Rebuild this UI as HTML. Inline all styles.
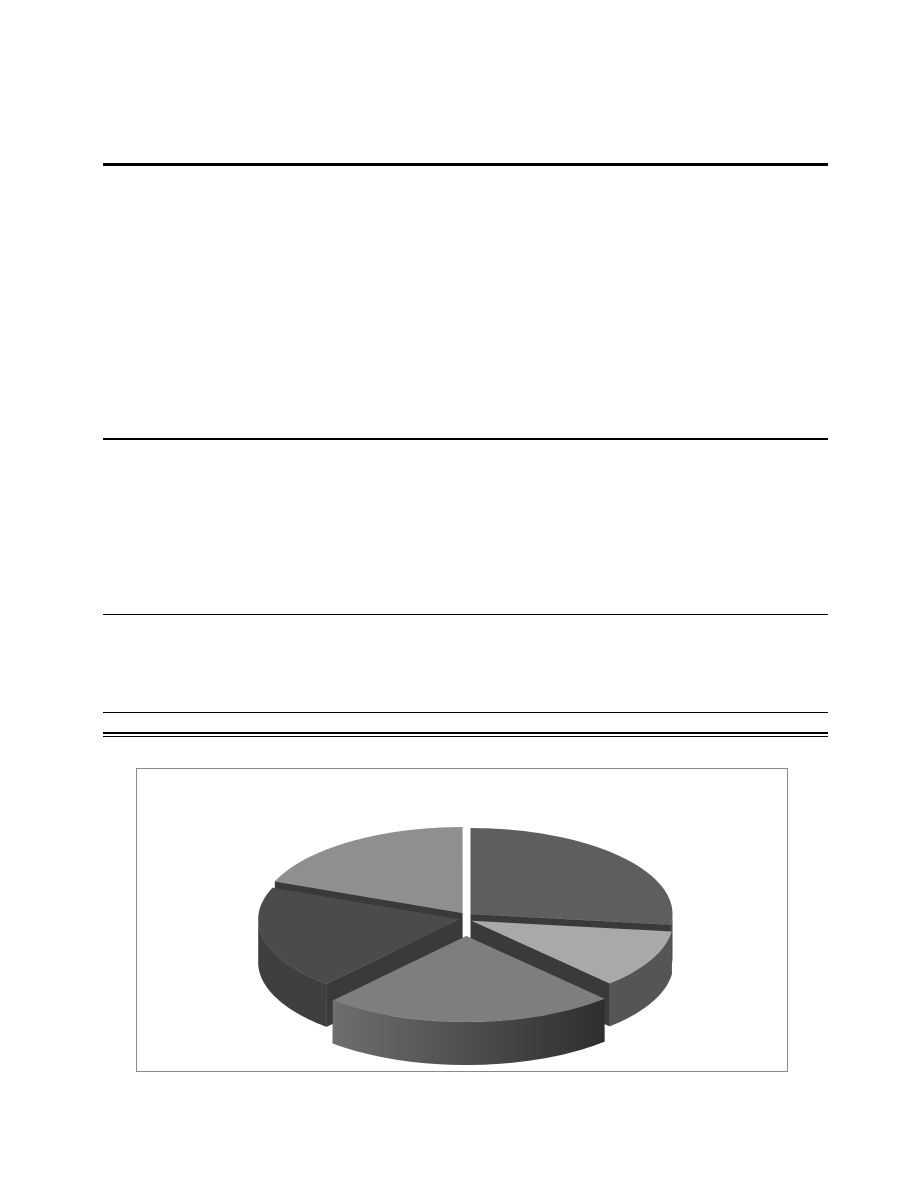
<!DOCTYPE html>
<html><head><meta charset="utf-8"><style>
html,body{margin:0;padding:0;background:#fff;}
body{width:918px;height:1188px;position:relative;overflow:hidden;font-family:"Liberation Sans",sans-serif;}
.hr{position:absolute;left:103px;width:725px;background:#000;}
#chart-box{position:absolute;left:136px;top:768px;width:652px;height:304px;border:1px solid #8a8a8a;box-sizing:border-box;}
svg{position:absolute;left:0;top:0;}
</style></head><body>
<div class="hr" style="top:163px;height:3px"></div>
<div class="hr" style="top:438px;height:2px"></div>
<div class="hr" style="top:614px;height:1px"></div>
<div class="hr" style="top:712px;height:1px"></div>
<div class="hr" style="top:732px;height:2px"></div>
<div class="hr" style="top:736px;height:1px"></div>
<div id="chart-box"></div>
<svg id="pie" width="918" height="1188">
<defs>
<linearGradient id="gw" x1="0" x2="1" y1="0" y2="0"><stop offset="0" stop-color="#6e6e6e"/><stop offset="1" stop-color="#2e2e2e"/></linearGradient>
</defs>
</svg>
<script>
const categories=["A","B","C","D","E"];
const values=[27.0,11.0,23.5,19.5,19.0];
const topColors=["#5e5e5e","#a9a9a9","#7e7e7e","#4b4b4b","#8f8f8f"];
const wallColors=["#4a4a4a","#555555","url(#gw)","#3f3f3f","#555555"];
const explode=[6,6,18,6,6];
const cx=466,cy=918,rx=202,ry=86,depth=43;
const svg=document.getElementById('pie');
const NS="http://www.w3.org/2000/svg";
const total=values.reduce((a,b)=>a+b,0);
function pt(ox,oy,a,dy){return [ox+rx*Math.cos(a),oy+ry*Math.sin(a)+(dy||0)];}
let start=-Math.PI/2;
const slices=[];
values.forEach((v,i)=>{const span=v/total*2*Math.PI;const a0=start,a1=start+span;const mid=(a0+a1)/2;
 slices.push({i,a0,a1,ox:cx+explode[i]*Math.cos(mid),oy:cy+explode[i]*Math.sin(mid)});start=a1;});
function arc(ox,oy,a0,a1,dy,n){const p=[];for(let k=0;k<=n;k++){const a=a0+(a1-a0)*k/n;p.push(pt(ox,oy,a,dy));}return p;}
const gW=document.createElementNS(NS,'g');


svg.appendChild(gW);
const gT=document.createElementNS(NS,'g');


svg.appendChild(gT);
slices.forEach(s=>{
 [s.a0,s.a1].forEach(a=>{const p=pt(s.ox,s.oy,a);
  const f=document.createElementNS(NS,'path');
  f.setAttribute('d',`M${s.ox},${s.oy}L${p[0]},${p[1]}L${p[0]},${p[1]+depth}L${s.ox},${s.oy+depth}Z`);
  f.setAttribute('fill','#3a3a3a');
  
  
  gW.appendChild(f);});
});
slices.forEach(s=>{
 const segs=[[Math.max(s.a0,0),Math.min(s.a1,Math.PI)],[Math.max(s.a0,2*Math.PI),Math.min(s.a1,3*Math.PI)]];
 segs.forEach(([w0,w1])=>{if(w1<=w0)return;
  const top=arc(s.ox,s.oy,w0,w1,0,40),bot=arc(s.ox,s.oy,w1,w0,depth,40);
  const w=document.createElementNS(NS,'path');
  w.setAttribute('d','M'+top.concat(bot).map(p=>p[0].toFixed(1)+','+p[1].toFixed(1)).join('L')+'Z');
  w.setAttribute('fill',wallColors[s.i]);
  
  
  gW.appendChild(w);});
 const t=arc(s.ox,s.oy,s.a0,s.a1,0,60);
 const p=document.createElementNS(NS,'path');
 p.setAttribute('d',`M${s.ox},${s.oy}L`+t.map(q=>q[0].toFixed(1)+','+q[1].toFixed(1)).join('L')+'Z');
 p.setAttribute('fill',topColors[s.i]);
 
 
 gT.appendChild(p);
});
</script>
</body></html>
